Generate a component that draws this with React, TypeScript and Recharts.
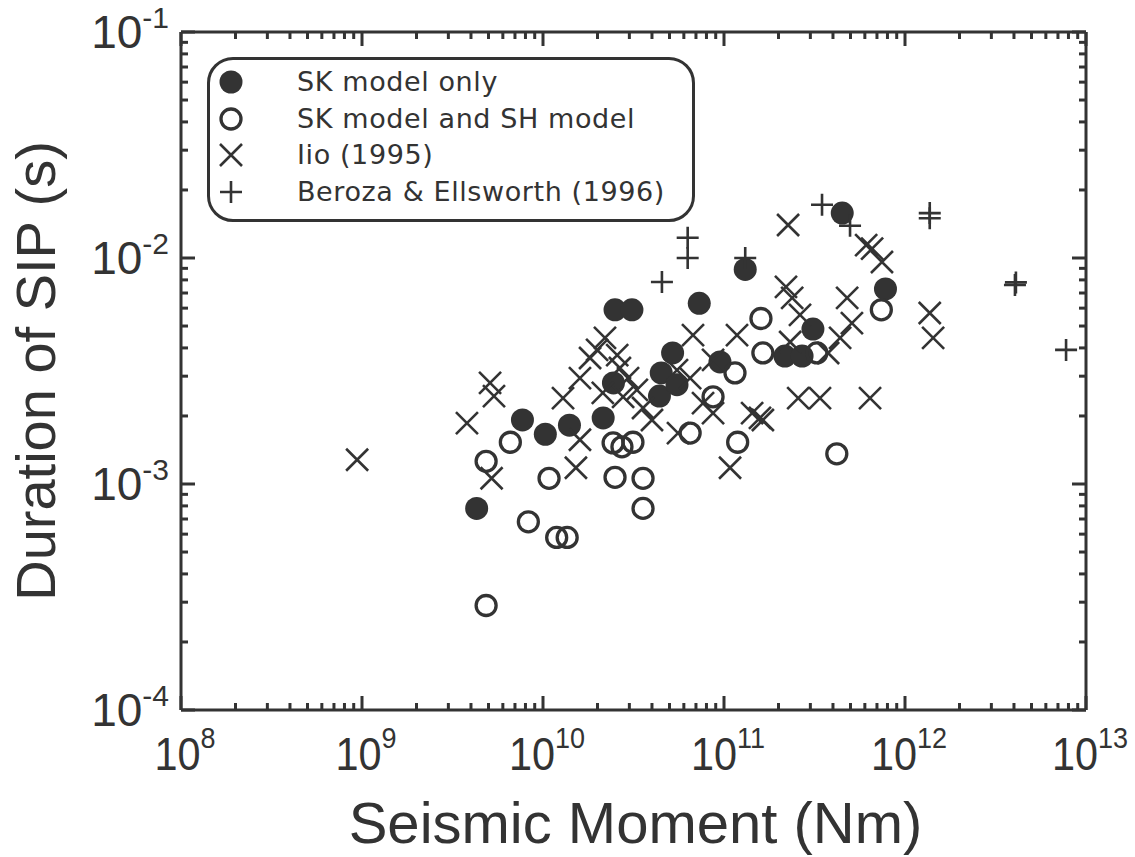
import { ScatterChart, Scatter, XAxis, YAxis, Legend, Label } from "recharts";

const ink = "#333";
const tickFont = "'Liberation Sans', Arial, sans-serif";
const titleFont = "'Liberation Sans', Arial, sans-serif";
const legendFont = "'DejaVu Sans', Verdana, sans-serif";

const xDecades = [1e8, 1e9, 1e10, 1e11, 1e12, 1e13];
const yDecades = [1e-4, 1e-3, 1e-2, 1e-1];
const minorSteps = [2, 3, 4, 5, 6, 7, 8, 9];

// [seismic moment (Nm), duration of SIP (s)]
const skOnly: [number, number][] = [
  [4.3e9, 7.8e-4], [7.7e9, 1.92e-3], [1.03e10, 1.66e-3], [1.4e10, 1.82e-3],
  [2.15e10, 1.96e-3], [2.45e10, 2.8e-3], [2.5e10, 5.9e-3], [3.1e10, 5.9e-3],
  [4.4e10, 2.45e-3], [4.5e10, 3.1e-3], [5.5e10, 2.75e-3], [5.2e10, 3.8e-3],
  [7.3e10, 6.3e-3], [9.5e10, 3.47e-3], [1.31e11, 8.9e-3], [2.17e11, 3.68e-3],
  [2.7e11, 3.68e-3], [3.1e11, 4.85e-3], [4.5e11, 1.58e-2], [7.8e11, 7.3e-3],
];

const skAndSh: [number, number][] = [
  [4.85e9, 1.26e-3], [6.6e9, 1.53e-3], [8.3e9, 6.8e-4], [1.19e10, 5.8e-4],
  [1.36e10, 5.8e-4], [4.85e9, 2.9e-4], [1.08e10, 1.06e-3], [2.44e10, 1.52e-3],
  [2.73e10, 1.46e-3], [3.14e10, 1.53e-3], [2.5e10, 1.07e-3], [3.57e10, 1.06e-3],
  [3.57e10, 7.8e-4], [6.5e10, 1.68e-3], [8.7e10, 2.43e-3], [1.15e11, 3.1e-3],
  [1.19e11, 1.53e-3], [1.6e11, 5.4e-3], [1.64e11, 3.8e-3], [3.26e11, 3.8e-3],
  [7.4e11, 5.9e-3], [4.2e11, 1.36e-3],
];

const iio1995: [number, number][] = [
  [9.4e8, 1.28e-3], [3.8e9, 1.86e-3], [5.1e9, 2.8e-3], [5.36e9, 2.45e-3],
  [5.2e9, 1.06e-3], [1.29e10, 2.4e-3], [1.52e10, 1.18e-3], [1.6e10, 1.57e-3],
  [1.6e10, 2.94e-3], [1.82e10, 3.61e-3], [1.99e10, 3.92e-3], [2.2e10, 4.43e-3],
  [2.57e10, 3.72e-3], [2.66e10, 3.26e-3], [2.95e10, 2.94e-3], [2.14e10, 2.53e-3],
  [2.77e10, 2.43e-3], [3.3e10, 2.61e-3], [3.57e10, 2.17e-3], [4.0e10, 1.92e-3],
  [5.57e10, 1.68e-3], [5.5e10, 3.19e-3], [6.5e10, 2.94e-3], [6.74e10, 4.56e-3],
  [8.7e10, 3.54e-3], [7.66e10, 2.28e-3], [8.7e10, 2.06e-3], [1.18e11, 4.56e-3],
  [1.08e11, 1.18e-3], [1.43e11, 2.06e-3], [1.58e11, 1.96e-3], [2.26e11, 1.4e-2],
  [2.2e11, 7.45e-3], [2.38e11, 6.66e-3], [2.63e11, 5.6e-3], [2.32e11, 4.25e-3],
  [2.57e11, 2.4e-3], [3.39e11, 2.4e-3], [4.79e11, 6.66e-3], [5.09e11, 5.15e-3],
  [4.38e11, 4.43e-3], [3.76e11, 3.8e-3], [6.41e11, 2.4e-3], [6.1e11, 1.14e-2],
  [6.58e11, 1.1e-2], [7.46e11, 9.6e-3], [1.37e12, 5.71e-3], [1.43e12, 4.43e-3],
  [1.64e11, 1.92e-3],
];

const beroza1996: [number, number][] = [
  [4.54e10, 7.83e-3], [6.3e10, 1.23e-2], [6.3e10, 1.0e-2], [1.31e11, 1.0e-2],
  [3.48e11, 1.72e-2], [4.97e11, 1.39e-2], [1.37e12, 1.58e-2], [1.37e12, 1.5e-2],
  [4.05e12, 7.6e-3], [4.1e12, 7.8e-3], [7.76e12, 3.92e-3],
];

const withMinors = (decades: number[]) => {
  const top = decades[decades.length - 1];
  return decades.flatMap((d) => [d, ...minorSteps.map((k) => k * d)]).filter((v) => v <= top * 1.0001);
};
const xTicks = withMinors(xDecades);
const yTicks = withMinors(yDecades);

const toPoints = (rows: [number, number][]) => rows.map(([m, d]) => ({ m, d }));

type ShapeProps = { cx?: number; cy?: number };

const FilledDot = ({ cx = 0, cy = 0 }: ShapeProps) => <circle cx={cx} cy={cy} r={11.5} fill={ink} />;
const OpenDot = ({ cx = 0, cy = 0 }: ShapeProps) => (
  <circle cx={cx} cy={cy} r={10} fill="none" stroke={ink} strokeWidth={3.3} />
);
const Cross = ({ cx = 0, cy = 0 }: ShapeProps) => (
  <path d={`M${cx - 11},${cy - 11}L${cx + 11},${cy + 11}M${cx - 11},${cy + 11}L${cx + 11},${cy - 11}`} stroke={ink} strokeWidth={2.6} />
);
const Plus = ({ cx = 0, cy = 0 }: ShapeProps) => (
  <path d={`M${cx - 11},${cy}L${cx + 11},${cy}M${cx},${cy - 11}L${cx},${cy + 11}`} stroke={ink} strokeWidth={2.6} />
);

const series = [
  { name: "SK model only", rows: skOnly, Shape: FilledDot },
  { name: "SK model and SH model", rows: skAndSh, Shape: OpenDot },
  { name: "Iio (1995)", rows: iio1995, Shape: Cross },
  { name: "Beroza & Ellsworth (1996)", rows: beroza1996, Shape: Plus },
];

type Side = "bottom" | "top" | "left" | "right";

function renderTick(props: any, side: Side) {
  const { x, y, payload } = props;
  const lg = Math.log10(payload.value);
  const exp = Math.round(lg);
  const major = Math.abs(lg - exp) < 1e-6;
  const len = major ? 14 : 7;
  let line;
  if (side === "bottom") line = <line x1={x} x2={x} y1={y} y2={y - len} />;
  else if (side === "top") line = <line x1={x} x2={x} y1={y} y2={y + len} />;
  else if (side === "left") line = <line x1={x} x2={x + len} y1={y} y2={y} />;
  else line = <line x1={x} x2={x - len} y1={y} y2={y} />;

  let label = null;
  if (major && side === "bottom") {
    label = (
      <text
        transform={`translate(${x + 4} ${y + 60}) scale(0.9 1)`}
        textAnchor="middle"
        fontSize={46}
        fill={ink}
        stroke="none"
        fontFamily={tickFont}
      >
        10<tspan dy={-22} fontSize={30}>{exp}</tspan>
      </text>
    );
  } else if (major && side === "left") {
    label = (
      <text x={x - 12} y={y + 16} textAnchor="end" fontSize={46} fill={ink} stroke="none" fontFamily={tickFont}>
        10<tspan dy={-20} fontSize={30}>{exp}</tspan>
      </text>
    );
  }
  return (
    <g stroke={ink} strokeWidth={3}>
      {line}
      {label}
    </g>
  );
}

const axisLine = { stroke: ink, strokeWidth: 3 };

function renderLegend() {
  return (
    <div
      style={{
        position: "relative",
        width: 488,
        height: 165,
        boxSizing: "border-box",
        border: `3px solid ${ink}`,
        borderRadius: 26,
        background: "#fff",
      }}
    >
      {series.map(({ name, Shape }, i) => {
        const top = 22 + i * 36.5;
        return (
          <div key={name}>
            <svg width={30} height={30} style={{ position: "absolute", left: 6, top: top - 15 }}>
              <Shape cx={15} cy={15} />
            </svg>
            <span
              style={{
                position: "absolute",
                left: 87,
                top: top - 17,
                fontFamily: legendFont,
                fontSize: 27,
                letterSpacing: 0.6,
                lineHeight: "34px",
                color: ink,
                whiteSpace: "nowrap",
              }}
            >
              {name}
            </span>
          </div>
        );
      })}
    </div>
  );
}

export default function App() {
  return (
    <div style={{ position: "absolute", left: 0, top: 0, width: 1135, height: 857, background: "#fff" }}>
      <ScatterChart width={1135} height={857} margin={{ top: 22, right: 39, bottom: 0, left: 61 }}>
        <XAxis
          xAxisId="b"
          type="number"
          dataKey="m"
          scale="log"
          domain={[1e8, 1e13]}
          allowDataOverflow
          ticks={xTicks}
          interval={0}
          tickSize={0}
          tickMargin={0}
          tickLine={false}
          axisLine={axisLine}
          height={147}
          tick={(p: any) => renderTick(p, "bottom")}
        >
          <Label
            content={({ viewBox }: any) => (
              <text
                x={viewBox.x + viewBox.width / 2 + 2}
                y={viewBox.y + viewBox.height - 14}
                textAnchor="middle"
                fontSize={58}
                fill={ink}
                fontFamily={titleFont}
              >
                Seismic Moment (Nm)
              </text>
            )}
          />
        </XAxis>
        <XAxis
          xAxisId="t"
          orientation="top"
          type="number"
          dataKey="m"
          scale="log"
          domain={[1e8, 1e13]}
          allowDataOverflow
          ticks={xTicks}
          interval={0}
          tickSize={0}
          tickMargin={0}
          tickLine={false}
          axisLine={axisLine}
          height={10}
          tick={(p: any) => renderTick(p, "top")}
        />
        <YAxis
          yAxisId="l"
          type="number"
          dataKey="d"
          scale="log"
          domain={[1e-4, 1e-1]}
          allowDataOverflow
          ticks={yTicks}
          interval={0}
          tickSize={0}
          tickMargin={0}
          tickLine={false}
          axisLine={axisLine}
          width={120}
          tick={(p: any) => renderTick(p, "left")}
        >
          <Label
            content={({ viewBox }: any) => {
              const x = viewBox.x - 6;
              const y = viewBox.y + viewBox.height / 2;
              return (
                <text
                  x={x}
                  y={y}
                  transform={`rotate(-90 ${x} ${y})`}
                  textAnchor="middle"
                  fontSize={56}
                  fill={ink}
                  fontFamily={titleFont}
                >
                  Duration of SIP (s)
                </text>
              );
            }}
          />
        </YAxis>
        <YAxis
          yAxisId="r"
          orientation="right"
          type="number"
          dataKey="d"
          scale="log"
          domain={[1e-4, 1e-1]}
          allowDataOverflow
          ticks={yTicks}
          interval={0}
          tickSize={0}
          tickMargin={0}
          tickLine={false}
          axisLine={axisLine}
          width={10}
          tick={(p: any) => renderTick(p, "right")}
        />
        {series.map(({ name, rows, Shape }) => (
          <Scatter
            key={name}
            name={name}
            data={toPoints(rows)}
            xAxisId="b"
            yAxisId="l"
            fill={ink}
            shape={(p: any) => <Shape cx={p.cx} cy={p.cy} />}
            isAnimationActive={false}
          />
        ))}
        <Legend
          layout="vertical"
          align="center"
          verticalAlign="middle"
          content={renderLegend}
          wrapperStyle={{ position: "absolute", left: 207, top: 57, width: 488, height: 165 }}
        />
      </ScatterChart>
    </div>
  );
}
